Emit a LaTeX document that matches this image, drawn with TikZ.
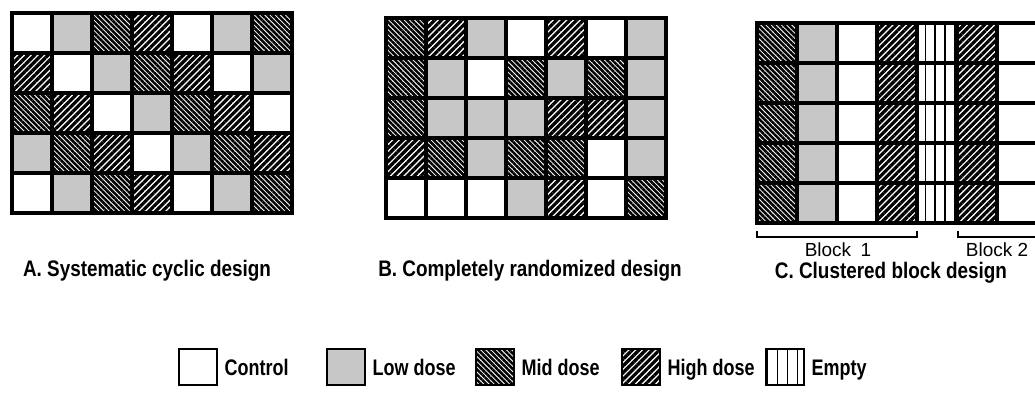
\documentclass[tikz,border=0pt]{standalone}
\usepackage{fontspec}
\usetikzlibrary{patterns.meta,positioning}
\newfontfamily\capfont{Liberation Sans}[FakeStretch=0.84]
\newfontfamily\keyfont{Liberation Sans}[FakeStretch=0.8]
\newfontfamily\blkfont{Liberation Sans}

\begin{document}
\begin{tikzpicture}[x=0.025cm,y=-0.025cm,
    cell/.style={draw,line width=2.6pt,minimum width=1cm,minimum height=1cm,inner sep=0pt,outer sep=0pt},
    control/.style={fill=white},
    lowdose/.style={fill=black!22},
    middose/.style={pattern={Lines[angle=-45,distance=2.6pt,line width=1.8pt]}},
    highdose/.style={pattern={Lines[angle=45,distance=3.4pt,line width=2.3pt]}},
    emptycell/.style={pattern={Lines[angle=90,distance=7pt,line width=0.9pt]}},
    frame/.style={line width=3.5pt},
    caption/.style={font=\capfont\bfseries\fontsize{16}{18}\selectfont,inner sep=0pt,anchor=base},
    keybox/.style={draw,line width=1.8pt,minimum width=0.95cm,minimum height=0.9cm,inner sep=0pt},
    keytext/.style={font=\keyfont\bfseries\fontsize{16}{18}\selectfont,inner sep=0pt,text height=11.4pt,text depth=0pt},
    blocktext/.style={font=\blkfont\fontsize{13.5}{16}\selectfont,inner sep=0pt,anchor=base},
    bracket/.style={line width=1pt}]
    \useasboundingbox (0,0) rectangle (1035,394);
    \clip (0,0) rectangle (1035,394);

    % A. systematic cyclic
    \foreach \row [count=\r] in {
        {control,lowdose,middose,highdose,control,lowdose,middose},
        {highdose,control,lowdose,middose,highdose,control,lowdose},
        {middose,highdose,control,lowdose,middose,highdose,control},
        {lowdose,middose,highdose,control,lowdose,middose,highdose},
        {control,lowdose,middose,highdose,control,lowdose,middose}}
        \foreach \s [count=\c] in \row
            \node[cell,\s] (A-\r-\c) at ({12+40*\c-20},{13+40*\r-20}) {};
    \draw[frame] (A-1-1.north west) rectangle (A-5-7.south east);

    % B. completely randomized
    \foreach \row [count=\r] in {
        {middose,highdose,lowdose,control,highdose,control,lowdose},
        {middose,lowdose,control,middose,lowdose,middose,lowdose},
        {middose,lowdose,lowdose,lowdose,highdose,highdose,lowdose},
        {highdose,middose,lowdose,middose,middose,control,lowdose},
        {control,control,control,lowdose,highdose,control,middose}}
        \foreach \s [count=\c] in \row
            \node[cell,\s] (B-\r-\c) at ({386+40*\c-20},{18+40*\r-20}) {};
    \draw[frame] (B-1-1.north west) rectangle (B-5-7.south east);

    % C. clustered block
    \foreach \r in {1,...,5}
        \foreach \s [count=\c] in {middose,lowdose,control,highdose,emptycell,highdose,control}
            \node[cell,\s] (C-\r-\c) at ({757+40*\c-20},{23+40*\r-20}) {};
    \draw[frame] (C-1-1.north west) rectangle (C-5-7.south east);

    \coordinate (blk1a) at (757,231);
    \coordinate (blk1b) at (917,231);
    \coordinate (blk2a) at (958,231);
    \coordinate (blk2b) at (1045,237);
    \draw[bracket] (blk1a) -- ++(0,6) -| (blk1b);
    \draw[bracket] (blk2a) |- (blk2b);
    \node[blocktext] (blk1) at (838,257) {Block\enspace 1};
    \node[blocktext] (blk2) at (997,257) {Block 2};

    \node[caption] (capA) at (147,276) {A. Systematic cyclic design};
    \node[caption] (capB) at (530,276) {B. Completely randomized design};
    \node[caption] (capC) at (891,278) {C. Clustered block design};

    % legend
    \node[keybox,control] (keyctl) at (198,367) {};
    \node[keybox,lowdose] (keylow) at (346,367) {};
    \node[keybox,middose] (keymid) at (495,367) {};
    \node[keybox,highdose] (keyhigh) at (641,367) {};
    \node[keybox,emptycell] (keyempty) at (785,367) {};
    \node[keytext,right=0.15cm of keyctl] (txtctl) {Control};
    \node[keytext,right=0.15cm of keylow] (txtlow) {Low dose};
    \node[keytext,right=0.15cm of keymid] (txtmid) {Mid dose};
    \node[keytext,right=0.15cm of keyhigh] (txthigh) {High dose};
    \node[keytext,right=0.15cm of keyempty] (txtempty) {Empty};
\end{tikzpicture}
\end{document}
